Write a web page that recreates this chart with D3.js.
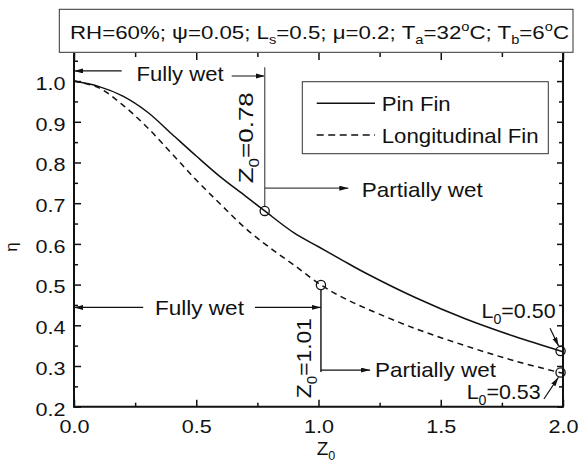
<!DOCTYPE html>
<html lang="en">
<head>
<meta charset="utf-8" />
<title>Fin efficiency vs Z0</title>
<script src="https://d3js.org/d3.v7.min.js"></script>
<style>
  body { margin: 0; background: #fff; }
  svg text { font-family: Arial, "Liberation Sans", Helvetica, sans-serif; fill: #111; }
</style>
</head>
<body>
<script>
// values
const pinZ    = [0, 0.1, 0.2, 0.3, 0.4, 0.5, 0.6, 0.7, 0.78, 0.9, 1.0, 1.1, 1.2, 1.4, 1.6, 1.8, 2.0];
const pinEta  = [1.0, 0.987, 0.963, 0.924, 0.870, 0.816, 0.764, 0.718, 0.681, 0.627, 0.593, 0.559, 0.526, 0.467, 0.416, 0.373, 0.335];
const longZ   = [0, 0.1, 0.2, 0.3, 0.4, 0.5, 0.6, 0.7, 0.8, 0.9, 1.01, 1.1, 1.2, 1.4, 1.6, 1.8, 2.0];
const longEta = [1.0, 0.984, 0.941, 0.886, 0.822, 0.757, 0.697, 0.639, 0.591, 0.548, 0.499, 0.468, 0.440, 0.391, 0.350, 0.313, 0.282];
// circled transition points
const markZ   = [0.78, 1.01, 1.99, 1.99];
const markEta = [0.681, 0.499, 0.337, 0.284];
const xTicks = [0, 0.5, 1.0, 1.5, 2.0];
const xMinor = [0.25, 0.75, 1.25, 1.75];
const yTicks = [0.2, 0.3, 0.4, 0.5, 0.6, 0.7, 0.8, 0.9, 1.0];
const yMinor = [0.25, 0.35, 0.45, 0.55, 0.65, 0.75, 0.85, 0.95, 1.05];
const seriesNames = ["Pin Fin", "Longitudinal Fin"];

const width = 579, height = 463;
const plotL = 74, plotR = 563, plotT = 53, plotB = 406.7;

const svg = d3.select("body").append("svg")
    .attr("width", width)
    .attr("height", height);

svg.append("defs").append("marker")
    .attr("id", "head")
    .attr("markerUnits", "userSpaceOnUse")
    .attr("markerWidth", 10).attr("markerHeight", 6)
    .attr("refX", 9).attr("refY", 2.5)
    .attr("orient", "auto")
    .append("path").attr("d", "M0,0 L9,2.5 L0,5 Z").attr("fill", "#111");

const x = d3.scaleLinear().domain([0, 2]).range([plotL, plotR]);
const y = d3.scaleLinear().domain([0.2, 1.069]).range([plotB, plotT]);
const fmt = d3.format(".1f");

// axes: ticks point inward on all sides
function axis(gen, tx, ty, values, size, labels) {
    const g = svg.append("g")
        .attr("transform", `translate(${tx},${ty})`)
        .call(gen.tickValues(values).tickSize(size).tickFormat(labels ? fmt : ""));
    g.select(".domain").remove();
    g.selectAll("line").attr("stroke", "#111").attr("stroke-width", 1.5);
    g.selectAll("text").attr("fill", "#111");
    return g;
}
const bx = axis(d3.axisBottom(x).tickPadding(12.5), 0, plotB, xTicks, -7, true);
axis(d3.axisBottom(x), 0, plotB, xMinor, -4, false);
axis(d3.axisTop(x), 0, plotT, xTicks, -7, false);
axis(d3.axisTop(x), 0, plotT, xMinor, -4, false);
const ly = axis(d3.axisLeft(y).tickPadding(8.5), plotL, 0, yTicks, -7, true);
axis(d3.axisLeft(y), plotL, 0, yMinor, -4, false);
axis(d3.axisRight(y), plotR, 0, yTicks, -6, false);
axis(d3.axisRight(y), plotR, 0, yMinor, -4, false);

bx.selectAll("text")
    .style("font-size", "19px").style("font-family", "Arial, 'Liberation Sans', sans-serif")
    .attr("textLength", 30).attr("lengthAdjust", "spacingAndGlyphs");
ly.selectAll("text")
    .style("font-size", "19px").style("font-family", "Arial, 'Liberation Sans', sans-serif")
    .attr("dy", "8.3px")
    .attr("textLength", 30).attr("lengthAdjust", "spacingAndGlyphs");

// frame
svg.append("path")
    .attr("d", `M${plotL},${plotT} V${plotB} H${plotR} V${plotT}`)
    .attr("fill", "none").attr("stroke", "#111").attr("stroke-width", 2);

// curves
const line = d3.line().curve(d3.curveCatmullRom.alpha(0.5));
svg.append("path")
    .attr("d", line(pinZ.map((z, i) => [x(z), y(pinEta[i])])))
    .attr("fill", "none").attr("stroke", "#111").attr("stroke-width", 1.5);
svg.append("path")
    .attr("d", line(longZ.map((z, i) => [x(z), y(longEta[i])])))
    .attr("fill", "none").attr("stroke", "#111").attr("stroke-width", 1.5)
    .attr("stroke-dasharray", "6,4.5");

// helpers for annotations
function label(px, py, size, len, parts, rot) {
    const t = svg.append("text")
        .attr("transform", `translate(${px},${py})` + (rot ? " rotate(-90)" : ""))
        .style("font-size", size + "px");
    parts.forEach(p => {
        const s = t.append("tspan").text(p[0]);
        if (p[1] === "sub") s.attr("dy", size * 0.27).style("font-size", (size * 0.66) + "px");
        if (p[1] === "sup") s.attr("dy", -size * 0.42).style("font-size", (size * 0.66) + "px");
        if (p[1] === "back") s.attr("dy", -size * 0.27);
        if (p[1] === "down") s.attr("dy", size * 0.42);
    });
    if (len) t.attr("textLength", len).attr("lengthAdjust", "spacingAndGlyphs");
    return t;
}
function arrow(z1, e1, z2, e2, color) {
    svg.append("line")
        .attr("x1", x(z1)).attr("y1", y(e1)).attr("x2", x(z2)).attr("y2", y(e2))
        .attr("stroke", color || "#111").attr("stroke-width", 1.2)
        .attr("marker-end", "url(#head)");
}
function rule(z1, e1, z2, e2, color) {
    svg.append("line")
        .attr("x1", x(z1)).attr("y1", y(e1)).attr("x2", x(z2)).attr("y2", y(e2))
        .attr("stroke", color || "#111").attr("stroke-width", 1.4);
}

// upper transition Z0 = 0.78
arrow(0.195, 1.025, 0, 1.025);
label(x(0.256), y(0.999), 21, 87, [["Fully wet"]]);
arrow(0.645, 1.0125, 0.78, 1.0125);
rule(0.78, 1.034, 0.78, 0.681 + 0.011, "#666");
arrow(0.78, 0.737, 1.122, 0.737, "#444");
label(x(1.177), y(0.715), 21, 121, [["Partially wet"]]);
label(x(0.732), y(0.749), 21, 91, [["Z"], ["0", "sub"], ["=0.78", "back"]], true);

// lower transition Z0 = 1.01
arrow(0.283, 0.444, 0, 0.444);
label(x(0.331), y(0.425), 21, 89, [["Fully wet"]]);
arrow(0.74, 0.444, 1.01, 0.444);
rule(1.01, 0.499 - 0.011, 1.01, 0.285);
arrow(1.01, 0.29, 1.211, 0.29);
label(x(1.231), y(0.274), 21, 121, [["Partially wet"]]);
label(x(0.969), y(0.221), 21, 80, [["Z"], ["0", "sub"], ["=1.01", "back"]], true);

// tip length labels
label(x(1.667), y(0.418), 21, 74, [["L"], ["0", "sub"], ["=0.50", "back"]]);
arrow(1.947, 0.393, 1.982, 0.349);
label(x(1.606), y(0.219), 21, 74, [["L"], ["0", "sub"], ["=0.53", "back"]]);
arrow(1.922, 0.219, 1.981, 0.272);

// circles
svg.selectAll("circle.mark")
    .data(markZ)
    .enter().append("circle")
    .attr("class", "mark")
    .attr("cx", d => x(d))
    .attr("cy", (d, i) => y(markEta[i]))
    .attr("r", 4.6)
    .attr("fill", "none").attr("stroke", "#111").attr("stroke-width", 1.3);

// legend
svg.append("rect")
    .attr("x", 302.3).attr("y", 81.7).attr("width", 246).attr("height", 72)
    .attr("fill", "#fff").attr("stroke", "#333").attr("stroke-width", 1);
seriesNames.forEach((name, i) => {
    const ly0 = 103.3 + i * 31.7;
    svg.append("line")
        .attr("x1", 316.7).attr("x2", 375).attr("y1", ly0).attr("y2", ly0)
        .attr("stroke", "#111").attr("stroke-width", 1.4)
        .attr("stroke-dasharray", i === 1 ? "7,4.5" : null);
    svg.append("text")
        .attr("x", 381.7).attr("y", ly0 + 7.6)
        .style("font-size", "21px")
        .attr("textLength", i === 1 ? 157 : 69).attr("lengthAdjust", "spacingAndGlyphs")
        .text(name);
});

// title box
svg.append("rect")
    .attr("x", 59.3).attr("y", 9.3).attr("width", 513.7).attr("height", 43)
    .attr("fill", "#fff").attr("stroke", "#333").attr("stroke-width", 1);
label(70, 39.3, 19, 499, [
    ["RH=60%; \u03c8=0.05; L"], ["s", "sub"], ["=0.5; \u03bc=0.2; T", "back"], ["a", "sub"],
    ["=32", "back"], ["o", "sup"], ["C; T", "down"], ["b", "sub"], ["=6", "back"], ["o", "sup"], ["C", "down"]
]);

// axis titles
svg.append("text")
    .attr("transform", `translate(17,247) rotate(-90)`)
    .attr("text-anchor", "middle")
    .style("font-size", "17px")
    .text("\u03b7");
label(316.7, 454.5, 19, null, [["Z"], ["0", "sub"]]);
</script>
</body>
</html>
